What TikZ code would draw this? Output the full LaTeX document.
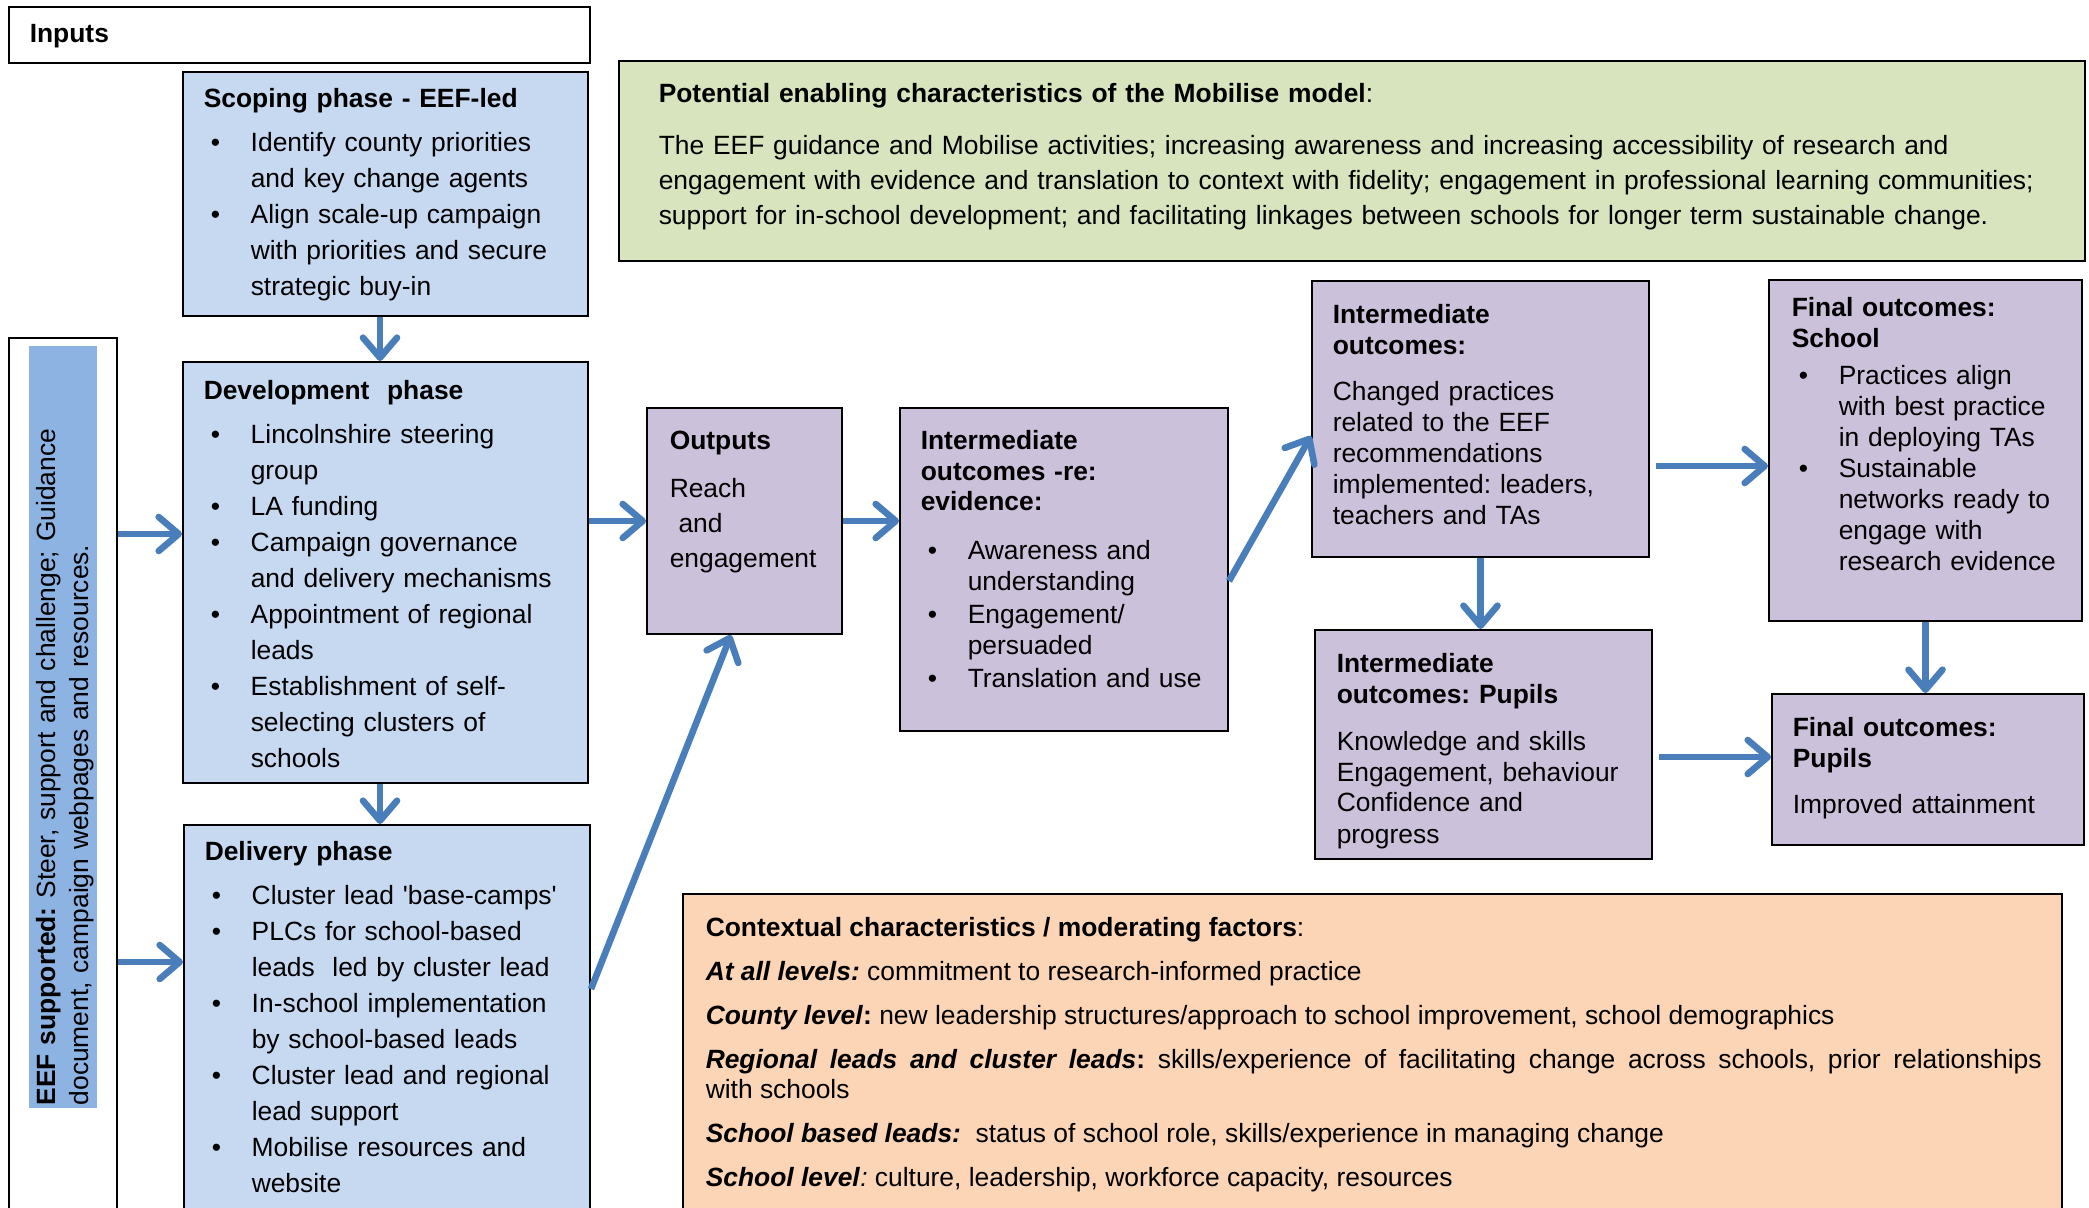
\documentclass[tikz,border=0pt]{standalone}
\usepackage{fontspec}
\setmainfont{Liberation Sans}
\usetikzlibrary{arrows.meta,fit}
\frenchspacing

\definecolor{phaseblue}{HTML}{C6D9F1}
\definecolor{stripblue}{HTML}{8DB3E2}
\definecolor{enablegreen}{HTML}{D7E4BD}
\definecolor{outlilac}{HTML}{CCC1DA}
\definecolor{contextpeach}{HTML}{FBD5B5}
\definecolor{flowblue}{HTML}{4A7EBB}

\newcommand{\bpt}{\makebox[23.5pt][l]{\hspace{3.5pt}\textbullet}}
\newcommand{\bcont}{\hspace*{23.5pt}}

\tikzset{every picture/.style={line width=0.75pt}}
\tikzset{
  box/.style={draw, line width=1pt, inner sep=0pt},
  flow/.style={draw=flowblue, line width=3.3pt, -{Straight Barb[length=10pt, width=17pt, round]}},
  txt/.style={anchor=base west, inner sep=0pt, align=left},
  wide/.style={font=\fontsize{13.2}{18}\selectfont},
  tight/.style={font=\fontsize{13.2}{15.5}\selectfont},
}

\begin{document}
\begin{tikzpicture}[x=0.5pt,y=0.5pt,yscale=-1]
\useasboundingbox (0,0) rectangle (2089,1208);

%Shape: Rectangle [inputs]
\node[box, fit={(9,7) (590,63)}] (inputs) {};
%Shape: Rectangle [scoping]
\node[box, fill=phaseblue, fit={(183,72) (588,316)}] (scoping) {};
%Shape: Rectangle [development]
\node[box, fill=phaseblue, fit={(183,362) (588,783)}] (devphase) {};
%Shape: Rectangle [delivery]
\node[box, fill=phaseblue, fit={(184,825) (590,1222)}] (delivery) {};
%Shape: Rectangle [eef support]
\node[box, fit={(9,338) (117,1222)}] (eefbox) {};
\node[fill=stripblue, inner sep=0pt, fit={(29,346) (97,1108)}] (eefstrip) {};
%Shape: Rectangle [enabling]
\node[box, line width=1.3pt, fill=enablegreen, fit={(619,61) (2085,261)}] (enabling) {};
%Shape: Rectangle [outputs]
\node[box, fill=outlilac, fit={(647,408) (842,634)}] (outputs) {};
%Shape: Rectangle [intermediate evidence]
\node[box, fill=outlilac, fit={(900,408) (1228,731)}] (intevid) {};
%Shape: Rectangle [intermediate outcomes]
\node[box, fill=outlilac, fit={(1312,281) (1649,557)}] (intout) {};
%Shape: Rectangle [intermediate pupils]
\node[box, fill=outlilac, fit={(1315,630) (1652,859)}] (intpupils) {};
%Shape: Rectangle [final school]
\node[box, fill=outlilac, fit={(1769,280) (2082,621)}] (finschool) {};
%Shape: Rectangle [final pupils]
\node[box, fill=outlilac, fit={(1772,694) (2084,845)}] (finpupils) {};
%Shape: Rectangle [context]
\node[box, line width=1.3pt, fill=contextpeach, fit={(683,894) (2062,1222)}] (context) {};

%Arrows
\draw[flow] (scoping.south -| 380,0) -- (devphase.north -| 380,0);
\draw[flow] (eefbox.east |- 0,534) -- (devphase.west |- 0,534);
\draw[flow] (eefbox.east |- 0,962) -- (delivery.west |- 0,962);
\draw[flow] (devphase.south -| 380,0) -- (delivery.north -| 380,0);
\draw[flow] (devphase.east |- outputs.west) -- (outputs.west);
\draw[flow] (delivery.east |- 0,989) -- (outputs.south -| 731,0);
\draw[flow] (outputs.east) -- (outputs.east -| intevid.west);
\draw[flow] (intevid.east |- 0,581) -- (intout.west |- 0,436);
\draw[flow, shorten <=3pt] (intout.east |- 0,466) -- (finschool.west |- 0,466);
\draw[flow] (intout.south) -- (intout.south |- intpupils.north);
\draw[flow] (finschool.south) -- (finschool.south |- finpupils.north);
\draw[flow, shorten <=3pt] (intpupils.east |- 0,757) -- (finpupils.west |- 0,757);

% Text Node
\node[txt, wide, text width=100pt] (inputstext) at (29,43) {\textbf{Inputs}};
% Text Node
\node[txt, wide, text width=195pt] (scopingtext) at (203,108) {\textbf{Scoping phase - EEF-led}\\[4pt]
\bpt Identify county priorities\\
\bcont and key change agents\\
\bpt Align scale-up campaign\\
\bcont with priorities and secure\\
\bcont strategic buy-in};
% Text Node
\node[txt, wide, text width=195pt] (devtext) at (203,400) {\textbf{Development\ \ phase}\\[4pt]
\bpt Lincolnshire steering\\
\bcont group\\
\bpt LA funding\\
\bpt Campaign governance\\
\bcont and delivery mechanisms\\
\bpt Appointment of regional\\
\bcont leads\\
\bpt Establishment of self-\\
\bcont selecting clusters of\\
\bcont schools};
% Text Node
\node[txt, wide, text width=195pt] (deliverytext) at (204,860) {\textbf{Delivery phase}\\[4pt]
\bpt Cluster lead \textquotesingle base-camps\textquotesingle\\
\bpt PLCs for school-based\\
\bcont leads\ \ led by cluster lead\\
\bpt In-school implementation\\
\bcont by school-based leads\\
\bpt Cluster lead and regional\\
\bcont lead support\\
\bpt Mobilise resources and\\
\bcont website};
% Text Node
\node[txt, font=\fontsize{13.2}{16.5}\selectfont, rotate=90, text width=370pt] (eeftext) at (55,1106) {\textbf{EEF supported:} Steer, support and challenge; Guidance\\
document, campaign webpages and resources.};
% Text Node
\node[txt, font=\fontsize{13.2}{17.5}\selectfont, text width=720pt] (enablingtext) at (658,103) {\textbf{Potential enabling characteristics of the Mobilise model}:\\[8.5pt]
The EEF guidance and Mobilise activities; increasing awareness and increasing accessibility of research and\\
engagement with evidence and translation to context with fidelity; engagement in professional learning communities;\\
support for in-school development; and facilitating linkages between schools for longer term sustainable change.};
% Text Node
\node[txt, font=\fontsize{13.2}{17.5}\selectfont, text width=90pt] (outputstext) at (669,450) {\textbf{Outputs}\\[6.5pt]
Reach\\
\ and\\
engagement};
% Text Node
\node[txt, font=\fontsize{13.2}{15.25}\selectfont, text width=150pt] (intevidtext) at (920,450) {\textbf{Intermediate}\\
\textbf{outcomes -re:}\\
\textbf{evidence:}\\[9.25pt]
\bpt Awareness and\\
\bcont understanding\\[1.5pt]
\bpt Engagement/\\
\bcont persuaded\\[1.5pt]
\bpt Translation and use};
% Text Node
\node[txt, tight, text width=160pt] (intouttext) at (1332,324) {\textbf{Intermediate}\\
\textbf{outcomes:}\\[7.5pt]
Changed practices\\
related to the EEF\\
recommendations\\
implemented: leaders,\\
teachers and TAs};
% Text Node
\node[txt, tight, text width=160pt] (intpupilstext) at (1336,672) {\textbf{Intermediate}\\
\textbf{outcomes: Pupils}\\[8pt]
Knowledge and skills\\
Engagement, behaviour\\
Confidence and\\
progress};
% Text Node
\node[txt, tight, text width=145pt] (finschooltext) at (1791,317) {\textbf{Final outcomes:}\\
\textbf{School}\\[3pt]
\bpt Practices align\\
\bcont with best practice\\
\bcont in deploying TAs\\
\bpt Sustainable\\
\bcont networks ready to\\
\bcont engage with\\
\bcont research evidence};
% Text Node
\node[txt, tight, text width=145pt] (finpupilstext) at (1792,736) {\textbf{Final outcomes:}\\
\textbf{Pupils}\\[7.5pt]
Improved attainment};
% Text Node
\node[txt, text width=668pt, align=justify, font=\fontsize{13.2}{15}\selectfont] (contexttext) at (705,936) {\setlength{\parskip}{7pt}\textbf{Contextual characteristics / moderating factors}:\par
\textbf{\textit{At all levels:}} commitment to research-informed practice\par
\textbf{\textit{County level}:} new leadership structures/approach to school improvement, school demographics\par
\textbf{\textit{Regional leads and cluster leads}:} skills/experience of facilitating change across schools, prior relationships\linebreak with schools\par
\textbf{\textit{School based leads:}}\ \ status of school role, skills/experience in managing change\par
\textbf{\textit{School level}}\textit{:} culture, leadership, workforce capacity, resources};

\end{tikzpicture}
\end{document}
